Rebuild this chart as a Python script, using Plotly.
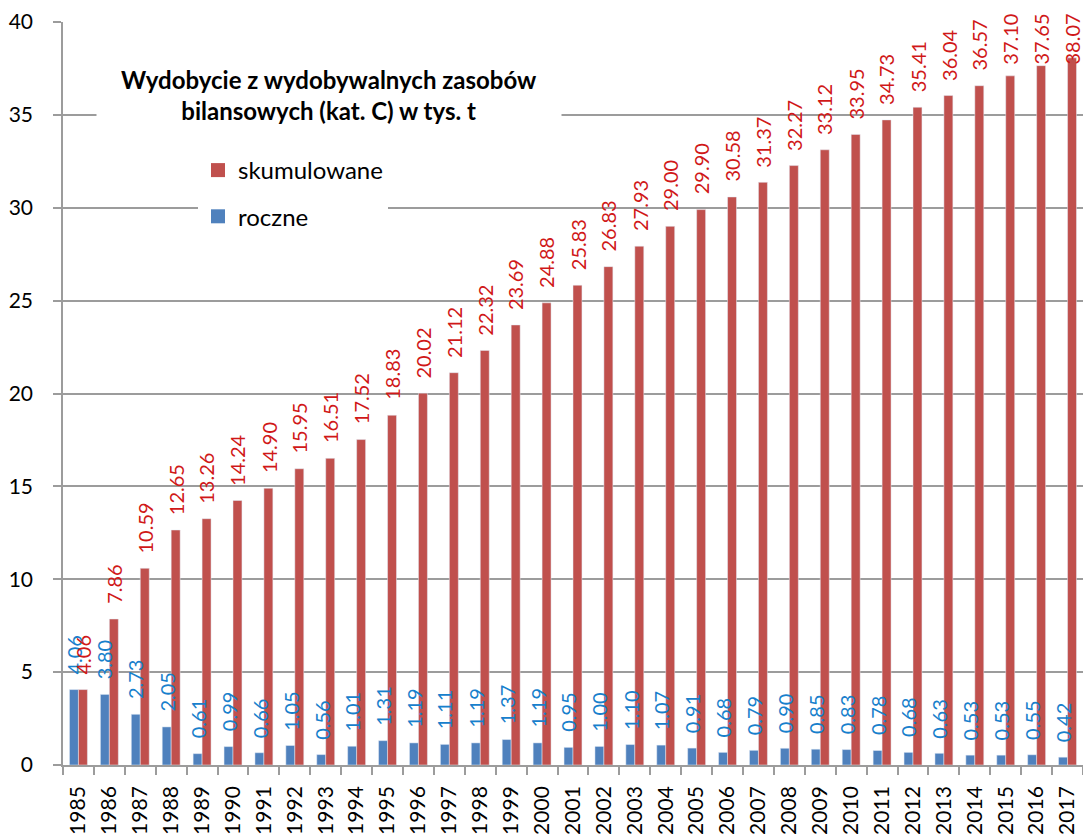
import plotly.graph_objects as go

# Lata wydobycia
years = [str(y) for y in range(1985, 2018)]

# Wydobycie roczne [tys. t]
roczne = [4.06, 3.80, 2.73, 2.05, 0.61, 0.99, 0.66, 1.05, 0.56, 1.01,
          1.31, 1.19, 1.11, 1.19, 1.37, 1.19, 0.95, 1.00, 1.10, 1.07,
          0.91, 0.68, 0.79, 0.90, 0.85, 0.83, 0.78, 0.68, 0.63, 0.53,
          0.53, 0.55, 0.42]

# Wydobycie skumulowane [tys. t]
skumulowane = [4.06, 7.86, 10.59, 12.65, 13.26, 14.24, 14.90, 15.95, 16.51, 17.52,
               18.83, 20.02, 21.12, 22.32, 23.69, 24.88, 25.83, 26.83, 27.93, 29.00,
               29.90, 30.58, 31.37, 32.27, 33.12, 33.95, 34.73, 35.41, 36.04, 36.57,
               37.10, 37.65, 38.07]

y_ticks = [0, 5, 10, 15, 20, 25, 30, 35, 40]

COL_ROCZNE = "#4F81BD"
COL_SKUM = "#C0504D"
TXT_ROCZNE = "#1780CC"
TXT_SKUM = "#D01818"
GRID = "#9C9C9C"
FONT = "Lato"

W, H = 1083, 834
M = dict(l=63, r=0, t=22, b=69)
BARGAP = 0.42
LABEL_FS = 20

plot_w = W - M["l"] - M["r"]
plot_h = H - M["t"] - M["b"]
px_per_unit = plot_h / 40.0
cat_px = plot_w / len(years)
half_offset = (1 - BARGAP) * cat_px / 4.0

fig = go.Figure()
fig.add_trace(go.Bar(x=years, y=roczne, name="roczne", marker_color=COL_ROCZNE,
                     showlegend=False))
fig.add_trace(go.Bar(x=years, y=skumulowane, name="skumulowane", marker_color=COL_SKUM,
                     showlegend=False))

# legend entries with larger square swatches
for name, col, rank in [("skumulowane", COL_SKUM, 1), ("roczne", COL_ROCZNE, 2)]:
    fig.add_trace(go.Scatter(x=[None], y=[None], mode="markers", name=name,
                             marker=dict(symbol="square", size=14, color=col),
                             legendgroup=name, legendrank=rank, hoverinfo="skip"))


def value_labels(values, color, xshift):
    anns = []
    for i, v in enumerate(values):
        txt = f"{v:.2f}"
        text_len = LABEL_FS * (0.58 * (len(txt) - 1) + 0.25)
        gap = 14
        top_px = (40 - v) * px_per_unit - gap - text_len  # relative to plot top
        # category axis: annotation x is the serial index of the category
        common = dict(x=i, xref="x", text=txt, showarrow=False, textangle=-90,
                      font=dict(family=FONT, size=LABEL_FS, color=color),
                      xshift=xshift, borderpad=0)
        if top_px < -9:
            anns.append(dict(y=1 + 9 / plot_h, yref="paper", yanchor="top", **common))
        else:
            anns.append(dict(y=v, yref="y", yanchor="bottom", yshift=gap, **common))
    return anns


annotations = value_labels(roczne, TXT_ROCZNE, -half_offset) + \
    value_labels(skumulowane, TXT_SKUM, half_offset)

annotations.append(dict(
    text="<b>Wydobycie z wydobywalnych zasobów<br>bilansowych (kat. C) w tys. t</b>",
    x=(329 - M["l"]) / plot_w, xref="paper", xanchor="center",
    y=1 - (95 - M["t"]) / plot_h, yref="paper", yanchor="middle",
    showarrow=False, align="center", bgcolor="white", borderpad=24,
    font=dict(family=FONT, size=24, color="black"),
))

fig.update_layout(
    width=W, height=H, margin=M,
    paper_bgcolor="white", plot_bgcolor="white",
    barmode="group", bargap=BARGAP, bargroupgap=0,
    font=dict(family=FONT, size=21, color="black"),
    showlegend=True,
    legend=dict(
        x=(198 - M["l"]) / plot_w, xanchor="left",
        y=1 - (148 - M["t"]) / plot_h, yanchor="top",
        bgcolor="white", borderwidth=0,
        traceorder="grouped", tracegroupgap=12,
        font=dict(family=FONT, size=24, color="black"),
    ),
    annotations=annotations,
)

fig.update_xaxes(
    type="category", range=[-0.5, len(years) - 0.5], automargin=False,
    showline=True, linecolor=GRID, linewidth=1.5,
    ticks="outside", tickson="boundaries", ticklen=8, tickcolor=GRID, tickwidth=1.5,
    tickangle=-90, showgrid=False, tickfont=dict(family=FONT, size=21, color="black"),
    ticklabelstandoff=11,
)
fig.update_yaxes(
    range=[0, 40], tickvals=y_ticks, automargin=False,
    showline=True, linecolor=GRID, linewidth=1.5,
    ticks="outside", ticklen=8, tickcolor=GRID, tickwidth=1.5,
    showgrid=True, gridcolor=GRID, gridwidth=1.5, zeroline=False,
    tickfont=dict(family=FONT, size=21, color="black"), ticklabelstandoff=16,
)

fig.write_html("out.html")
